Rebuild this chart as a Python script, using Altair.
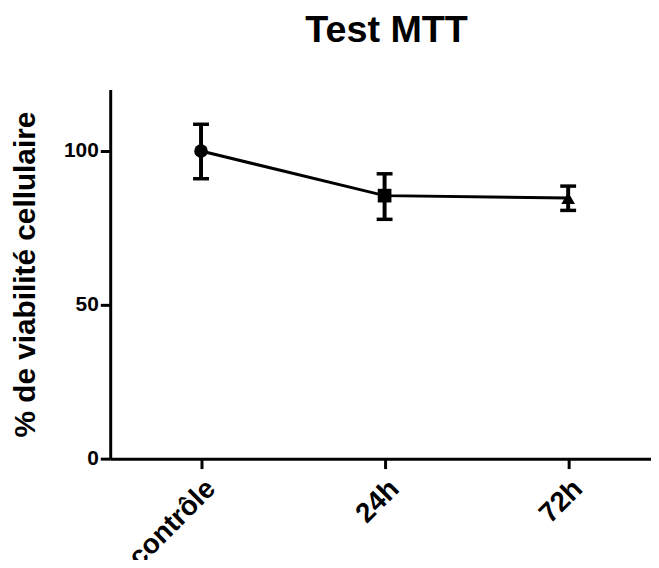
import altair as alt
import pandas as pd

categories = ["contrôle", "24h", "72h"]
means = [100.0, 85.5, 84.7]
lower = [91.0, 77.8, 80.7]
upper = [108.7, 92.6, 88.6]
shapes = ["circle", "square", "triangle-up"]

df = pd.DataFrame({"cond": categories, "mean": means, "lo": lower, "hi": upper})

FONT = "Liberation Sans"

x = alt.X(
    "cond:N",
    sort=categories,
    title=None,
    scale=alt.Scale(type="point", padding=0.473, align=0.523),
    axis=alt.Axis(labelAngle=-45, labelFontSize=28, labelPadding=6),
)
yscale = alt.Scale(domain=[0, 120], nice=False)

line = alt.Chart(df).mark_line(color="black", strokeWidth=3).encode(
    x=x,
    y=alt.Y(
        "mean:Q",
        scale=yscale,
        axis=alt.Axis(
            values=[0, 50, 100],
            title="% de viabilité cellulaire",
            titleFontSize=30,
            titleAngle=-90,
            titleAlign="center",
            titleBaseline="alphabetic",
            titleX=-76,
            titleY=186,
            labelFontSize=21,
            labelPadding=2,
        ),
    ),
)

bars = alt.Chart(df).mark_rule(color="black", strokeWidth=4).encode(
    x=x, y=alt.Y("lo:Q", scale=yscale), y2="hi:Q"
)
cap_lo = alt.Chart(df).mark_tick(color="black", thickness=3.5, size=16, opacity=1).encode(
    x=x, y=alt.Y("lo:Q", scale=yscale)
)
cap_hi = alt.Chart(df).mark_tick(color="black", thickness=3.5, size=16, opacity=1).encode(
    x=x, y=alt.Y("hi:Q", scale=yscale)
)
pts = alt.Chart(df).mark_point(filled=True, color="black", opacity=1, size=190).encode(
    x=x,
    y=alt.Y("mean:Q", scale=yscale),
    shape=alt.Shape("cond:N", scale=alt.Scale(domain=categories, range=shapes), legend=None),
)

chart = (
    alt.layer(line, bars, cap_lo, cap_hi, pts)
    .properties(
        width=545,
        height=372,
        title=alt.TitleParams(
            "Test MTT",
            fontSize=38,
            font=FONT,
            fontWeight="bold",
            color="black",
            anchor="middle",
            baseline="alphabetic",
            offset=10,
            dx=6,
        ),
        autosize=alt.AutoSizeParams(type="none"),
        padding={"left": 103, "top": 80, "right": 0, "bottom": 100},
    )
    .configure_view(stroke=None)
    .configure_axis(
        grid=False,
        domainColor="black",
        domainWidth=3,
        tickColor="black",
        tickWidth=3,
        tickSize=10,
        labelColor="black",
        labelFont=FONT,
        labelFontWeight="bold",
        titleColor="black",
        titleFont=FONT,
        titleFontWeight="bold",
    )
)

chart.save("out.html", embed_options={"renderer": "svg", "actions": False})
